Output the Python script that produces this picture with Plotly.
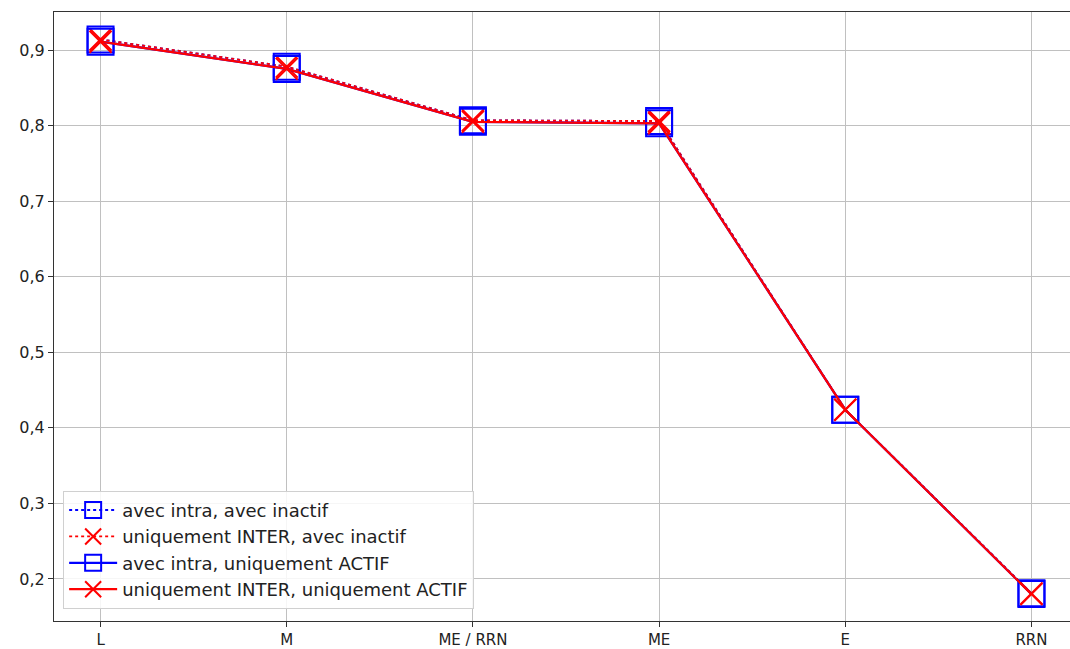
import plotly.graph_objects as go

categories = ["L", "M", "ME / RRN", "ME", "E", "RRN"]

avec_intra_avec_inactif = [0.914, 0.878, 0.807, 0.806, 0.424, 0.181]
inter_avec_inactif = [0.914, 0.878, 0.807, 0.806, 0.424, 0.181]
avec_intra_actif = [0.911, 0.875, 0.805, 0.803, 0.424, 0.180]
inter_actif = [0.911, 0.875, 0.805, 0.803, 0.424, 0.180]

y_ticks = [0.2, 0.3, 0.4, 0.5, 0.6, 0.7, 0.8, 0.9]
y_tick_labels = ["0,2", "0,3", "0,4", "0,5", "0,6", "0,7", "0,8", "0,9"]

BLUE = "#0000ff"
RED = "#ff0000"

fig = go.Figure()
fig.add_trace(go.Scatter(
    x=categories, y=avec_intra_avec_inactif, name="avec intra, avec inactif",
    mode="lines+markers",
    line=dict(color=BLUE, width=1.8, dash="dot"),
    marker=dict(symbol="square-open", size=26, color=BLUE, line=dict(width=2, color=BLUE)),
))
fig.add_trace(go.Scatter(
    x=categories, y=inter_avec_inactif, name="uniquement INTER, avec inactif",
    mode="lines+markers",
    line=dict(color=RED, width=1.8, dash="dot"),
    marker=dict(symbol="x-thin-open", size=22, color=RED, line=dict(width=2, color=RED)),
))
fig.add_trace(go.Scatter(
    x=categories, y=avec_intra_actif, name="avec intra, uniquement ACTIF",
    mode="lines+markers",
    line=dict(color=BLUE, width=2.2),
    marker=dict(symbol="square-open", size=26, color=BLUE, line=dict(width=2, color=BLUE)),
))
fig.add_trace(go.Scatter(
    x=categories, y=inter_actif, name="uniquement INTER, uniquement ACTIF",
    mode="lines+markers",
    line=dict(color=RED, width=2.2),
    marker=dict(symbol="x-thin-open", size=22, color=RED, line=dict(width=2, color=RED)),
))

fig.update_layout(
    width=1070, height=649,
    margin=dict(l=54, r=0, t=12, b=28),
    paper_bgcolor="white", plot_bgcolor="white",
    font=dict(family="DejaVu Sans", size=16, color="#222222"),
    showlegend=True,
    legend=dict(
        x=0.009, y=0.02, xanchor="left", yanchor="bottom",
        bgcolor="rgba(255,255,255,0.85)", bordercolor="#d0d0d0", borderwidth=1,
        font=dict(family="DejaVu Sans", size=18, color="#222222"),
        tracegroupgap=0, itemwidth=48,
    ),
)
fig.update_xaxes(
    type="category", categoryorder="array", categoryarray=categories,
    range=[-0.25, 5.207], automargin=False,
    showgrid=True, gridcolor="#c0c0c0", gridwidth=1,
    showline=True, linecolor="#333333", linewidth=1.2, mirror=True,
    ticks="outside", ticklen=5, tickcolor="#333333",
    tickfont=dict(family="DejaVu Sans", size=15, color="#222222"),
    zeroline=False,
)
fig.update_yaxes(
    range=[0.1444, 0.9503], automargin=False,
    tickvals=y_ticks, ticktext=y_tick_labels,
    showgrid=True, gridcolor="#c0c0c0", gridwidth=1,
    showline=True, linecolor="#333333", linewidth=1.2,
    ticks="outside", ticklen=5, tickcolor="#333333",
    tickfont=dict(family="DejaVu Sans", size=16, color="#222222"),
    zeroline=False,
)

fig.write_html(
    "out.html",
    config={"displayModeBar": False},
    post_script="document.body.style.margin='0';document.body.style.overflow='hidden';",
)
